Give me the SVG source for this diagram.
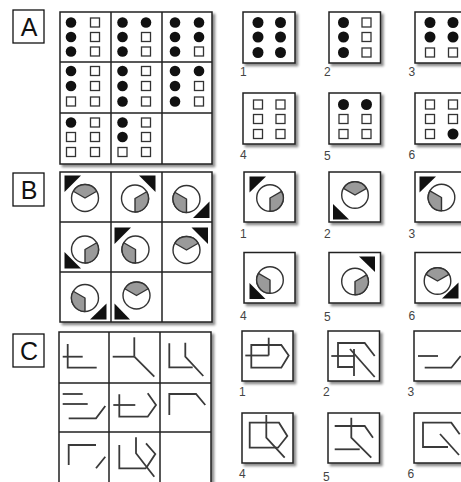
<svg xmlns="http://www.w3.org/2000/svg" width="461" height="482" viewBox="0 0 461 482">
<defs>
<filter id="sh" x="-10%" y="-10%" width="130%" height="130%"><feDropShadow dx="2.5" dy="2.5" stdDeviation="1.2" flood-color="#000" flood-opacity="0.45"/></filter>
<style>
.box{fill:#fff;stroke:#222;stroke-width:1.5;filter:url(#sh)}
.gl{fill:none;stroke:#222;stroke-width:1.5}
.lb{fill:#fff;stroke:#111;stroke-width:1.3}
.lt{font-family:"Liberation Sans",Arial,sans-serif;font-size:25px;fill:#111;text-anchor:middle}
.num{font-family:"Liberation Sans",Arial,sans-serif;font-size:12px;fill:#444}
.dot{fill:#111}
.sq{fill:#fff;stroke:#333;stroke-width:1.3}
.tri{fill:#111}
.cir{fill:#fff;stroke:#333;stroke-width:1.4}
.sec{fill:#9a9a9a;stroke:#333;stroke-width:1.4;stroke-linejoin:round}
.ln{fill:none;stroke:#3a3a3a;stroke-width:1.8}
</style>
</defs>
<rect width="461" height="482" fill="#fff"/>

<!-- Section A -->
<g id="label-A"><rect class="lb" x="13" y="10" width="31" height="33"/><text class="lt" x="29" y="36">A</text></g>
<g id="grid-A">
<rect class="box" x="60" y="12" width="152" height="152"/>
<path class="gl" d="M111 12V164M162 12V164M60 62H212M60 113H212"/>
<g id="A-r1c1"><circle class="dot" cx="71" cy="22.5" r="5.3"/><circle class="dot" cx="71" cy="37" r="5.3"/><circle class="dot" cx="71" cy="51.5" r="5.3"/><rect class="sq" x="90.5" y="18" width="9" height="9"/><rect class="sq" x="90.5" y="32.5" width="9" height="9"/><rect class="sq" x="90.5" y="47" width="9" height="9"/></g>
<g id="A-r1c2"><circle class="dot" cx="122.5" cy="22.5" r="5.3"/><circle class="dot" cx="146" cy="22.5" r="5.3"/><circle class="dot" cx="122.5" cy="37" r="5.3"/><circle class="dot" cx="122.5" cy="51.5" r="5.3"/><rect class="sq" x="141.5" y="32.5" width="9" height="9"/><rect class="sq" x="141.5" y="47" width="9" height="9"/></g>
<g id="A-r1c3"><circle class="dot" cx="175" cy="22.5" r="5.3"/><circle class="dot" cx="199" cy="22.5" r="5.3"/><circle class="dot" cx="175" cy="37" r="5.3"/><circle class="dot" cx="199" cy="37" r="5.3"/><circle class="dot" cx="175" cy="51.5" r="5.3"/><rect class="sq" x="194.5" y="47" width="9" height="9"/></g>
<g id="A-r2c1"><circle class="dot" cx="71" cy="71" r="5.3"/><circle class="dot" cx="71" cy="86" r="5.3"/><rect class="sq" x="90.5" y="66.5" width="9" height="9"/><rect class="sq" x="90.5" y="81.5" width="9" height="9"/><rect class="sq" x="66.5" y="97" width="9" height="9"/><rect class="sq" x="90.5" y="97" width="9" height="9"/></g>
<g id="A-r2c2"><circle class="dot" cx="122.5" cy="71" r="5.3"/><circle class="dot" cx="122.5" cy="86" r="5.3"/><circle class="dot" cx="122.5" cy="101.5" r="5.3"/><rect class="sq" x="141.5" y="66.5" width="9" height="9"/><rect class="sq" x="141.5" y="81.5" width="9" height="9"/><rect class="sq" x="141.5" y="97" width="9" height="9"/></g>
<g id="A-r2c3"><circle class="dot" cx="175" cy="71" r="5.3"/><circle class="dot" cx="199" cy="71" r="5.3"/><circle class="dot" cx="175" cy="86" r="5.3"/><circle class="dot" cx="175" cy="101.5" r="5.3"/><rect class="sq" x="194.5" y="81.5" width="9" height="9"/><rect class="sq" x="194.5" y="97" width="9" height="9"/></g>
<g id="A-r3c1"><circle class="dot" cx="71" cy="122.5" r="5.3"/><rect class="sq" x="90.5" y="118" width="9" height="9"/><rect class="sq" x="66.5" y="132.5" width="9" height="9"/><rect class="sq" x="90.5" y="132.5" width="9" height="9"/><rect class="sq" x="66.5" y="147.5" width="9" height="9"/><rect class="sq" x="90.5" y="147.5" width="9" height="9"/></g>
<g id="A-r3c2"><circle class="dot" cx="122.5" cy="122.5" r="5.3"/><circle class="dot" cx="122.5" cy="137" r="5.3"/><rect class="sq" x="141.5" y="118" width="9" height="9"/><rect class="sq" x="141.5" y="132.5" width="9" height="9"/><rect class="sq" x="118" y="147.5" width="9" height="9"/><rect class="sq" x="141.5" y="147.5" width="9" height="9"/></g>
</g>

<g id="A-opt1"><rect class="box" x="243" y="12" width="52" height="51"/><circle class="dot" cx="258" cy="22.5" r="5.5"/><circle class="dot" cx="280.5" cy="22.5" r="5.5"/><circle class="dot" cx="258" cy="37" r="5.5"/><circle class="dot" cx="280.5" cy="37" r="5.5"/><circle class="dot" cx="258" cy="52.5" r="5.5"/><circle class="dot" cx="280.5" cy="52.5" r="5.5"/><text class="num" x="240" y="76">1</text></g>
<g id="A-opt2"><rect class="box" x="329" y="12" width="51.5" height="51"/><circle class="dot" cx="343.5" cy="22.5" r="5.5"/><circle class="dot" cx="343.5" cy="37" r="5.5"/><circle class="dot" cx="343.5" cy="52.5" r="5.5"/><rect class="sq" x="362" y="18" width="9" height="9"/><rect class="sq" x="362" y="32.5" width="9" height="9"/><rect class="sq" x="362" y="48" width="9" height="9"/><text class="num" x="324" y="76">2</text></g>
<g id="A-opt3"><rect class="box" x="415" y="12" width="52" height="51"/><circle class="dot" cx="430" cy="22.5" r="5.5"/><circle class="dot" cx="453" cy="22.5" r="5.5"/><circle class="dot" cx="430" cy="37" r="5.5"/><circle class="dot" cx="453" cy="37" r="5.5"/><rect class="sq" x="425.5" y="48" width="9" height="9"/><rect class="sq" x="448.5" y="48" width="9" height="9"/><text class="num" x="408.5" y="76">3</text></g>
<g id="A-opt4"><rect class="box" x="243" y="93" width="52" height="51"/><rect class="sq" x="253.5" y="100" width="9" height="9"/><rect class="sq" x="276" y="100" width="9" height="9"/><rect class="sq" x="253.5" y="114.5" width="9" height="9"/><rect class="sq" x="276" y="114.5" width="9" height="9"/><rect class="sq" x="253.5" y="129.5" width="9" height="9"/><rect class="sq" x="276" y="129.5" width="9" height="9"/><text class="num" x="240" y="158.5">4</text></g>
<g id="A-opt5"><rect class="box" x="329" y="93" width="51.5" height="51"/><circle class="dot" cx="343.5" cy="104.5" r="5.5"/><circle class="dot" cx="366.5" cy="104.5" r="5.5"/><rect class="sq" x="339" y="114.5" width="9" height="9"/><rect class="sq" x="362" y="114.5" width="9" height="9"/><rect class="sq" x="339" y="129.5" width="9" height="9"/><rect class="sq" x="362" y="129.5" width="9" height="9"/><text class="num" x="324" y="159.5">5</text></g>
<g id="A-opt6"><rect class="box" x="415" y="93" width="52" height="51"/><rect class="sq" x="425.5" y="100" width="9" height="9"/><rect class="sq" x="448.5" y="100" width="9" height="9"/><rect class="sq" x="425.5" y="114.5" width="9" height="9"/><rect class="sq" x="448.5" y="114.5" width="9" height="9"/><rect class="sq" x="425.5" y="129.5" width="9" height="9"/><circle class="dot" cx="453" cy="134" r="5.5"/><text class="num" x="408.5" y="158.5">6</text></g>

<!-- Section B -->
<g id="label-B"><rect class="lb" x="13" y="173" width="31" height="33"/><text class="lt" x="29" y="199">B</text></g>
<g id="grid-B">
<rect class="box" x="60" y="172" width="152" height="150"/>
<path class="gl" d="M111 172V322M162 172V322M60 222H212M60 272H212"/>
<g id="B-r1c1"><circle class="cir" cx="85" cy="198" r="13.5"/><path class="sec" d="M85 198L96.69 191.25A13.5 13.5 0 0 0 73.31 191.25Z"/><polygon class="tri" points="64.5,175.5 81,175.5 64.5,192"/></g>
<g id="B-r1c2"><circle class="cir" cx="135" cy="198.5" r="13.5"/><path class="sec" d="M135 198.5L135 212A13.5 13.5 0 0 0 146.69 191.75Z"/><polygon class="tri" points="139,175.5 155.5,175.5 155.5,192"/></g>
<g id="B-r1c3"><circle class="cir" cx="186.5" cy="199" r="13.5"/><path class="sec" d="M186.5 199L174.81 192.25A13.5 13.5 0 0 0 186.5 212.5Z"/><polygon class="tri" points="193,218 209.5,201.5 209.5,218"/></g>
<g id="B-r2c1"><circle class="cir" cx="85" cy="249.5" r="13.5"/><path class="sec" d="M85 249.5L85 263A13.5 13.5 0 0 0 96.69 242.75Z"/><polygon class="tri" points="64.5,252 64.5,268.5 81,268.5"/></g>
<g id="B-r2c2"><circle class="cir" cx="135.5" cy="249.5" r="13.5"/><path class="sec" d="M135.5 249.5L123.81 242.75A13.5 13.5 0 0 0 135.5 263Z"/><polygon class="tri" points="114.5,227.5 131,227.5 114.5,244"/></g>
<g id="B-r2c3"><circle class="cir" cx="186.5" cy="250" r="13.5"/><path class="sec" d="M186.5 250L198.19 243.25A13.5 13.5 0 0 0 174.81 243.25Z"/><polygon class="tri" points="191.5,227.5 208,227.5 208,244"/></g>
<g id="B-r3c1"><circle class="cir" cx="85" cy="298" r="13.5"/><path class="sec" d="M85 298L73.31 291.25A13.5 13.5 0 0 0 85 311.5Z"/><polygon class="tri" points="90,319.5 106.5,303.5 106.5,319.5"/></g>
<g id="B-r3c2"><circle class="cir" cx="136.5" cy="295.5" r="13.5"/><path class="sec" d="M136.5 295.5L148.19 288.75A13.5 13.5 0 0 0 124.81 288.75Z"/><polygon class="tri" points="114.5,303.5 114.5,319.5 130,319.5"/></g>
</g>

<g id="B-opt1"><rect class="box" x="244" y="172" width="51" height="50"/><circle class="cir" cx="270" cy="198" r="13.3"/><path class="sec" d="M270 198L270 211.3A13.3 13.3 0 0 0 281.52 191.35Z"/><polygon class="tri" points="249.5,176.5 266,176.5 249.5,192.5"/><text class="num" x="240" y="237.5">1</text></g>
<g id="B-opt2"><rect class="box" x="329" y="172" width="51.5" height="50"/><circle class="cir" cx="355" cy="195" r="13.3"/><path class="sec" d="M355 195L366.52 188.35A13.3 13.3 0 0 0 343.48 188.35Z"/><polygon class="tri" points="333,204 333,219.5 349,219.5"/><text class="num" x="324" y="237.5">2</text></g>
<g id="B-opt3"><rect class="box" x="415" y="172" width="52" height="50"/><circle class="cir" cx="441.5" cy="197.5" r="13.3"/><path class="sec" d="M441.5 197.5L429.98 190.85A13.3 13.3 0 0 0 441.5 210.8Z"/><polygon class="tri" points="419.5,176.5 436,176.5 419.5,192.5"/><text class="num" x="408.5" y="237.5">3</text></g>
<g id="B-opt4"><rect class="box" x="244" y="252.5" width="51" height="50.5"/><circle class="cir" cx="270" cy="280" r="13.3"/><path class="sec" d="M270 280L258.48 273.35A13.3 13.3 0 0 0 270 293.3Z"/><polygon class="tri" points="249.5,283 249.5,299 265.5,299"/><text class="num" x="240" y="319.5">4</text></g>
<g id="B-opt5"><rect class="box" x="329" y="252.5" width="51.5" height="50.5"/><circle class="cir" cx="355" cy="281.5" r="13.3"/><path class="sec" d="M355 281.5L355 294.8A13.3 13.3 0 0 0 366.52 274.85Z"/><polygon class="tri" points="359,256.5 375,256.5 375,272"/><text class="num" x="324" y="320.5">5</text></g>
<g id="B-opt6"><rect class="box" x="415" y="252.5" width="52" height="50.5"/><circle class="cir" cx="437.5" cy="281" r="13.3"/><path class="sec" d="M437.5 281L449.02 274.35A13.3 13.3 0 0 0 425.98 274.35Z"/><polygon class="tri" points="442,298.5 458.5,282.5 458.5,298.5"/><text class="num" x="408.5" y="319.5">6</text></g>

<!-- Section C -->
<g id="label-C"><rect class="lb" x="13" y="334" width="31" height="33"/><text class="lt" x="29" y="360">C</text></g>
<g id="grid-C">
<rect class="box" x="59" y="332" width="152" height="153"/>
<path class="gl" d="M109 332V485M160 332V485M59 383H211M59 432H211"/>
<g id="C-r1c1"><polyline class="ln" points="67.7,344 67.7,367.7 96.7,367.7"/><line class="ln" x1="62.7" y1="356.7" x2="82.7" y2="356.7"/></g>
<g id="C-r1c2"><line class="ln" x1="134.3" y1="337.3" x2="134.3" y2="356.7"/><line class="ln" x1="112.7" y1="356.7" x2="134.3" y2="356.7"/><line class="ln" x1="134.3" y1="356.7" x2="154.3" y2="376.7"/></g>
<g id="C-r1c3"><polyline class="ln" points="169.3,343.3 169.3,367.3 192.7,367.3"/><polyline class="ln" points="185.3,342.7 185.3,356.7 203.3,376"/></g>
<g id="C-r2c1"><line class="ln" x1="62.7" y1="394" x2="82.7" y2="394"/><line class="ln" x1="62.7" y1="404" x2="87.7" y2="404"/><polyline class="ln" points="68.7,418.3 96,418.3 105.3,406"/></g>
<g id="C-r2c2"><polyline class="ln" points="119.3,394.3 119.3,416.7 147.7,416.7 156,405 147.7,393.3"/><line class="ln" x1="113.3" y1="405" x2="135.3" y2="405"/></g>
<g id="C-r2c3"><polyline class="ln" points="169.3,415 169.3,394 196,394 205.3,405"/></g>
<g id="C-r3c1"><polyline class="ln" points="68.7,465 68.7,445 96,445"/><line class="ln" x1="96" y1="468.3" x2="105.3" y2="456.7"/></g>
<g id="C-r3c2"><polyline class="ln" points="119.3,445 119.3,468.3 146,468.3"/><polyline class="ln" points="136,437.3 136,453.3 154.3,476.7"/><polyline class="ln" points="146,443.3 155.3,454 146,468.3"/></g>
</g>

<g id="C-opt1"><rect class="box" x="242" y="331" width="51" height="50"/><polygon class="ln" points="251.3,345 281.3,345 288.7,355.5 281.3,367.7 251.3,367.7"/><line class="ln" x1="245.3" y1="355.5" x2="268.7" y2="355.5"/><line class="ln" x1="268.7" y1="337.7" x2="268.7" y2="355.5"/><text class="num" x="239" y="395.5">1</text></g>
<g id="C-opt2"><rect class="box" x="328" y="331" width="51.5" height="50"/><polyline class="ln" points="353,367 338,367 338,343 364.7,343 374.7,356"/><line class="ln" x1="331.3" y1="356" x2="354" y2="356"/><line class="ln" x1="354" y1="349" x2="354" y2="376"/><line class="ln" x1="350" y1="349" x2="374.7" y2="377"/><text class="num" x="323" y="395.5">2</text></g>
<g id="C-opt3"><rect class="box" x="414" y="331" width="52" height="50"/><line class="ln" x1="418" y1="356" x2="438" y2="356"/><polyline class="ln" points="424.7,367.7 451.3,367.7 460.7,356"/><text class="num" x="407.5" y="395.5">3</text></g>
<g id="C-opt4"><rect class="box" x="242" y="413" width="51" height="50"/><polygon class="ln" points="249.7,422.7 279,422.7 287.3,436 278,447.7 249.7,447.7"/><polyline class="ln" points="266.3,415 266.3,437.7 284.7,457.7"/><text class="num" x="239" y="477.5">4</text></g>
<g id="C-opt5"><rect class="box" x="328" y="413" width="51.5" height="50"/><polyline class="ln" points="334.7,426 364.7,426 373,437.7"/><polyline class="ln" points="351.3,417.7 351.3,437.7 371.3,457.7"/><line class="ln" x1="334.7" y1="449.3" x2="359.7" y2="449.3"/><text class="num" x="323" y="480.5">5</text></g>
<g id="C-opt6"><rect class="box" x="414" y="413" width="52" height="50"/><polyline class="ln" points="459.7,434.3 451.3,422.7 423,422.7 423,447 448,447"/><line class="ln" x1="440" y1="434" x2="459" y2="455"/><text class="num" x="407.5" y="477.5">6</text></g>
</svg>
